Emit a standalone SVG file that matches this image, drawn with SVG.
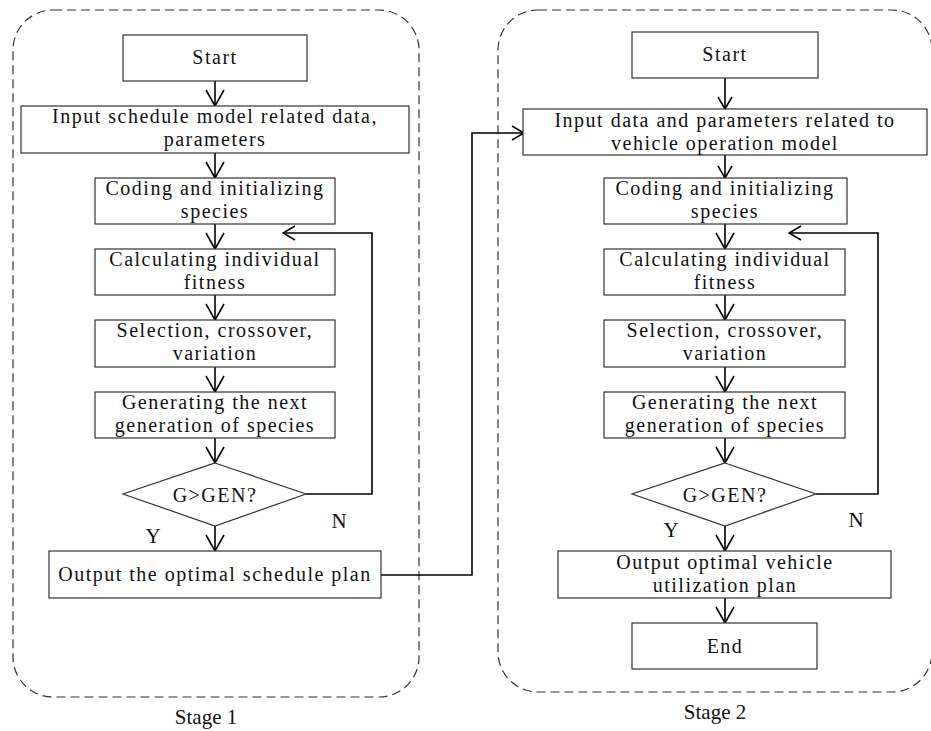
<svg xmlns="http://www.w3.org/2000/svg" width="931" height="731" viewBox="0 0 931 731">
<style>
.bg{fill:#fff}
.stage{fill:none;stroke:#333;stroke-width:1.2;stroke-dasharray:9 5}
.box{fill:#fff;stroke:#333;stroke-width:1.2}
.t{font-family:"Liberation Serif","Times New Roman",serif;font-size:20px;fill:#111;text-anchor:middle;letter-spacing:1.5px}
.lbl{font-family:"Liberation Serif","Times New Roman",serif;font-size:21px;fill:#111;text-anchor:middle}
.yn{font-family:"Liberation Serif","Times New Roman",serif;font-size:21px;fill:#111;text-anchor:middle}
.c{fill:none;stroke:#000;stroke-width:1.6}
</style>
<defs>
<marker id="ah" markerUnits="userSpaceOnUse" viewBox="0 0 18 20" refX="17" refY="10" markerWidth="18" markerHeight="20" orient="auto">
<path d="M1,1 L17,10 L1,19" fill="none" stroke="#000" stroke-width="1.6"/>
</marker>
<marker id="as" markerUnits="userSpaceOnUse" viewBox="0 0 14 16" refX="13" refY="8" markerWidth="14" markerHeight="16" orient="auto">
<path d="M1,1 L13,8 L1,15" fill="none" stroke="#000" stroke-width="1.6"/>
</marker>
</defs>
<rect class="bg" x="0" y="0" width="931" height="731"/>

<g id="stage1">
<rect class="stage" x="13" y="10" width="406" height="687" rx="40" ry="40"/>
<text class="lbl" x="206" y="724">Stage 1</text>
</g>
<g id="stage2">
<rect class="stage" x="498" y="10" width="434" height="682" rx="40" ry="40"/>
<text class="lbl" x="715" y="719">Stage 2</text>
</g>

<g id="connectors">
<line class="c" x1="215" y1="81" x2="215" y2="106" marker-end="url(#ah)"/>
<line class="c" x1="215" y1="153" x2="215" y2="178" marker-end="url(#ah)"/>
<line class="c" x1="215" y1="224" x2="215" y2="249" marker-end="url(#ah)"/>
<line class="c" x1="215" y1="295" x2="215" y2="320" marker-end="url(#ah)"/>
<line class="c" x1="215" y1="367" x2="215" y2="392" marker-end="url(#ah)"/>
<line class="c" x1="215" y1="438" x2="215" y2="463" marker-end="url(#ah)"/>
<line class="c" x1="215" y1="526" x2="215" y2="551" marker-end="url(#ah)"/>
<polyline class="c" points="306,494 372,494 372,233 283,233" marker-end="url(#as)"/>
<polyline class="c" points="381,575 472,575 472,133 524,133" marker-end="url(#as)"/>

<line class="c" x1="725" y1="78" x2="725" y2="109" marker-end="url(#as)"/>
<line class="c" x1="725" y1="155" x2="725" y2="178" marker-end="url(#as)"/>
<line class="c" x1="725" y1="224" x2="725" y2="249" marker-end="url(#ah)"/>
<line class="c" x1="725" y1="295" x2="725" y2="320" marker-end="url(#ah)"/>
<line class="c" x1="725" y1="367" x2="725" y2="392" marker-end="url(#ah)"/>
<line class="c" x1="725" y1="438" x2="725" y2="463" marker-end="url(#ah)"/>
<line class="c" x1="725" y1="526" x2="725" y2="551" marker-end="url(#ah)"/>
<line class="c" x1="725" y1="598" x2="725" y2="623" marker-end="url(#ah)"/>
<polyline class="c" points="816,494 878,494 878,233 789,233" marker-end="url(#as)"/>

<text class="yn" x="153" y="543">Y</text>
<text class="yn" x="339" y="528">N</text>
<text class="yn" x="671" y="537">Y</text>
<text class="yn" x="856" y="527">N</text>
</g>

<g id="s1-start"><rect class="box" x="123" y="35" width="184" height="46"/><text class="t" x="215" y="64">Start</text></g>
<g id="s1-input"><rect class="box" x="21" y="106" width="388" height="47"/><text class="t" x="215" y="123">Input schedule model related data,</text><text class="t" x="215" y="145.5">parameters</text></g>
<g id="s1-coding"><rect class="box" x="95" y="178" width="240" height="46"/><text class="t" x="215" y="195">Coding and initializing</text><text class="t" x="215" y="217.5">species</text></g>
<g id="s1-calc"><rect class="box" x="95" y="249" width="240" height="46"/><text class="t" x="215" y="266">Calculating individual</text><text class="t" x="215" y="288.5">fitness</text></g>
<g id="s1-sel"><rect class="box" x="95" y="320" width="240" height="47"/><text class="t" x="215" y="337">Selection, crossover,</text><text class="t" x="215" y="359.5">variation</text></g>
<g id="s1-gen"><rect class="box" x="95" y="392" width="240" height="46"/><text class="t" x="215" y="409">Generating the next</text><text class="t" x="215" y="431.5">generation of species</text></g>
<g id="s1-dec"><polygon class="box" points="215,463 306,494 215,526 123,494"/><text class="t" x="215" y="502">G&gt;GEN?</text></g>
<g id="s1-out"><rect class="box" x="49" y="551" width="332" height="47"/><text class="t" x="215" y="581">Output the optimal schedule plan</text></g>

<g id="s2-start"><rect class="box" x="632" y="32" width="186" height="46"/><text class="t" x="725" y="61">Start</text></g>
<g id="s2-input"><rect class="box" x="523" y="109" width="404" height="46"/><text class="t" x="725" y="127">Input data and parameters related to</text><text class="t" x="725" y="149.5">vehicle operation model</text></g>
<g id="s2-coding"><rect class="box" x="604" y="178" width="243" height="46"/><text class="t" x="725" y="195">Coding and initializing</text><text class="t" x="725" y="217.5">species</text></g>
<g id="s2-calc"><rect class="box" x="604" y="249" width="241" height="46"/><text class="t" x="725" y="266">Calculating individual</text><text class="t" x="725" y="288.5">fitness</text></g>
<g id="s2-sel"><rect class="box" x="604" y="320" width="241" height="47"/><text class="t" x="725" y="337">Selection, crossover,</text><text class="t" x="725" y="359.5">variation</text></g>
<g id="s2-gen"><rect class="box" x="604" y="392" width="241" height="46"/><text class="t" x="725" y="409">Generating the next</text><text class="t" x="725" y="431.5">generation of species</text></g>
<g id="s2-dec"><polygon class="box" points="725,463 816,494 725,526 632,494"/><text class="t" x="725" y="502">G&gt;GEN?</text></g>
<g id="s2-out"><rect class="box" x="558" y="551" width="333" height="47"/><text class="t" x="725" y="569">Output optimal vehicle</text><text class="t" x="725" y="591.5">utilization plan</text></g>
<g id="s2-end"><rect class="box" x="632" y="623" width="185" height="46"/><text class="t" x="725" y="653">End</text></g>
</svg>
